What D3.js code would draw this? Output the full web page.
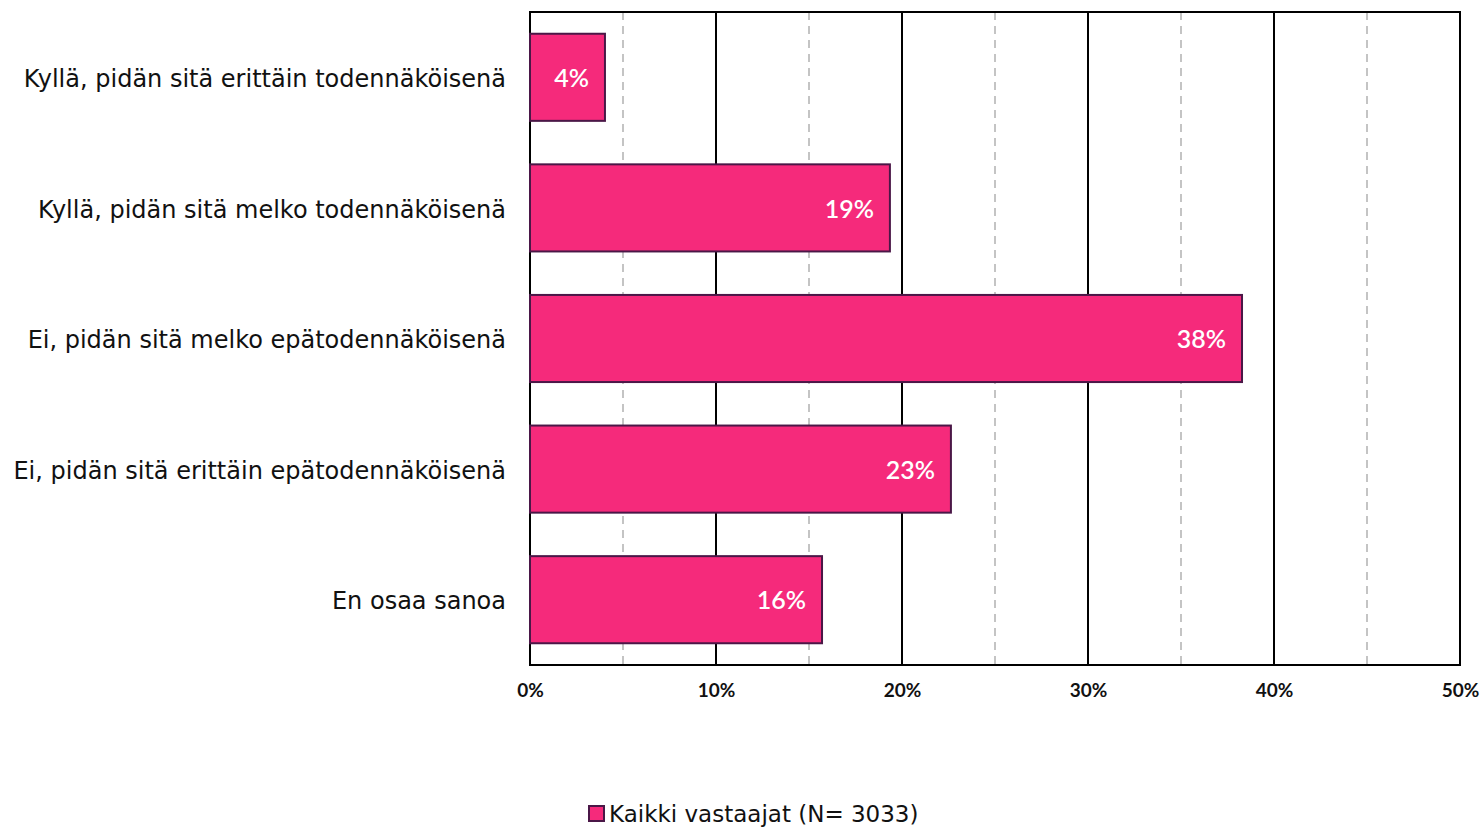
<!DOCTYPE html>
<html>
<head>
<meta charset="utf-8">
<script src="https://cdn.jsdelivr.net/npm/d3@7"></script>
<style>
	body { margin: 0; background: #fff; }
	svg { display: block; }
</style>
</head>
<body>
<div id="chart"></div>
<script>
const categories = [
	'Kyllä, pidän sitä erittäin todennäköisenä',
	'Kyllä, pidän sitä melko todennäköisenä',
	'Ei, pidän sitä melko epätodennäköisenä',
	'Ei, pidän sitä erittäin epätodennäköisenä',
	'En osaa sanoa'
];
const values = [4.03, 19.35, 38.28, 22.63, 15.7];
const valueLabels = ['4%', '19%', '38%', '23%', '16%'];
const majorTicks = [0, 10, 20, 30, 40, 50];
const minorTicks = [5, 15, 25, 35, 45];
const seriesName = 'Kaikki vastaajat (N= 3033)';

const options = {
	w: 1484,
	h: 828,
	mTop: 12,
	mRight: 24,
	mBottom: 163,
	mLeft: 530,
	fill: '#f52a7b',
	stroke: '#4a1747'
};

const width = options.w - (options.mLeft + options.mRight),
	height = options.h - (options.mTop + options.mBottom);

const svg = d3.select('#chart').append('svg')
	.attr('width', options.w)
	.attr('height', options.h);

const g = svg.append('g')
	.attr('transform', 'translate(' + options.mLeft + ',' + options.mTop + ')');

const x = d3.scaleLinear().domain([0, 50]).range([0, width]),
	y = d3.scaleBand().domain(categories).range([0, height]).paddingInner(0.333).paddingOuter(0.1665);

// minor dashed grid
g.selectAll('.minor')
	.data(minorTicks)
	.enter()
	.append('line')
	.attr('x1', d => x(d)).attr('x2', d => x(d))
	.attr('y1', 0).attr('y2', height)
	.attr('stroke', '#c4c4c4')
	.attr('stroke-width', 2)
	.attr('stroke-dasharray', '8,6');

// major grid
g.selectAll('.major')
	.data(majorTicks)
	.enter()
	.append('line')
	.attr('x1', d => x(d)).attr('x2', d => x(d))
	.attr('y1', 0).attr('y2', height)
	.attr('stroke', '#000')
	.attr('stroke-width', 2);

// frame
g.append('rect')
	.attr('x', 0).attr('y', 0)
	.attr('width', width).attr('height', height)
	.attr('fill', 'none')
	.attr('stroke', '#000')
	.attr('stroke-width', 2);

// bars
g.selectAll('.bar')
	.data(values)
	.enter()
	.append('rect')
	.attr('x', 0)
	.attr('y', (d, i) => y(categories[i]))
	.attr('width', d => x(d))
	.attr('height', y.bandwidth())
	.attr('fill', options.fill)
	.attr('stroke', options.stroke)
	.attr('stroke-width', 2);

// value labels
g.selectAll('.val')
	.data(values)
	.enter()
	.append('text')
	.attr('x', d => x(d) - 16)
	.attr('y', (d, i) => y(categories[i]) + y.bandwidth() / 2 + 1)
	.attr('dy', '0.35em')
	.attr('text-anchor', 'end')
	.attr('fill', '#fff')
	.style('font-family', 'Lato, sans-serif')
	.style('font-weight', 600)
	.style('font-size', '25px')
	.text((d, i) => valueLabels[i]);

// category axis
const yAxis = d3.axisLeft(y).tickSize(0).tickPadding(24);
g.append('g')
	.call(yAxis)
	.call(a => a.select('.domain').remove())
	.selectAll('text')
	.attr('fill', '#111')
	.attr('dy', '0.4em')
	.style('font-family', '"DejaVu Sans", sans-serif')
	.style('font-size', '24px');

// value axis
const xAxis = d3.axisBottom(x).tickValues(majorTicks).tickSize(0).tickPadding(19).tickFormat(d => d + '%');
g.append('g')
	.attr('transform', 'translate(0,' + height + ')')
	.call(xAxis)
	.call(a => a.select('.domain').remove())
	.selectAll('text')
	.attr('fill', '#111')
	.style('font-family', 'Lato, sans-serif')
	.style('font-weight', 700)
	.style('font-size', '19px');

// legend
const legend = svg.append('g').attr('transform', 'translate(589,806)');
legend.append('rect')
	.attr('width', 15).attr('height', 15)
	.attr('fill', options.fill)
	.attr('stroke', options.stroke)
	.attr('stroke-width', 2);
legend.append('text')
	.attr('x', 20).attr('y', 16)
	.attr('fill', '#111')
	.style('font-family', '"DejaVu Sans", sans-serif')
	.style('font-size', '23px')
	.text(seriesName);
</script>
</body>
</html>
